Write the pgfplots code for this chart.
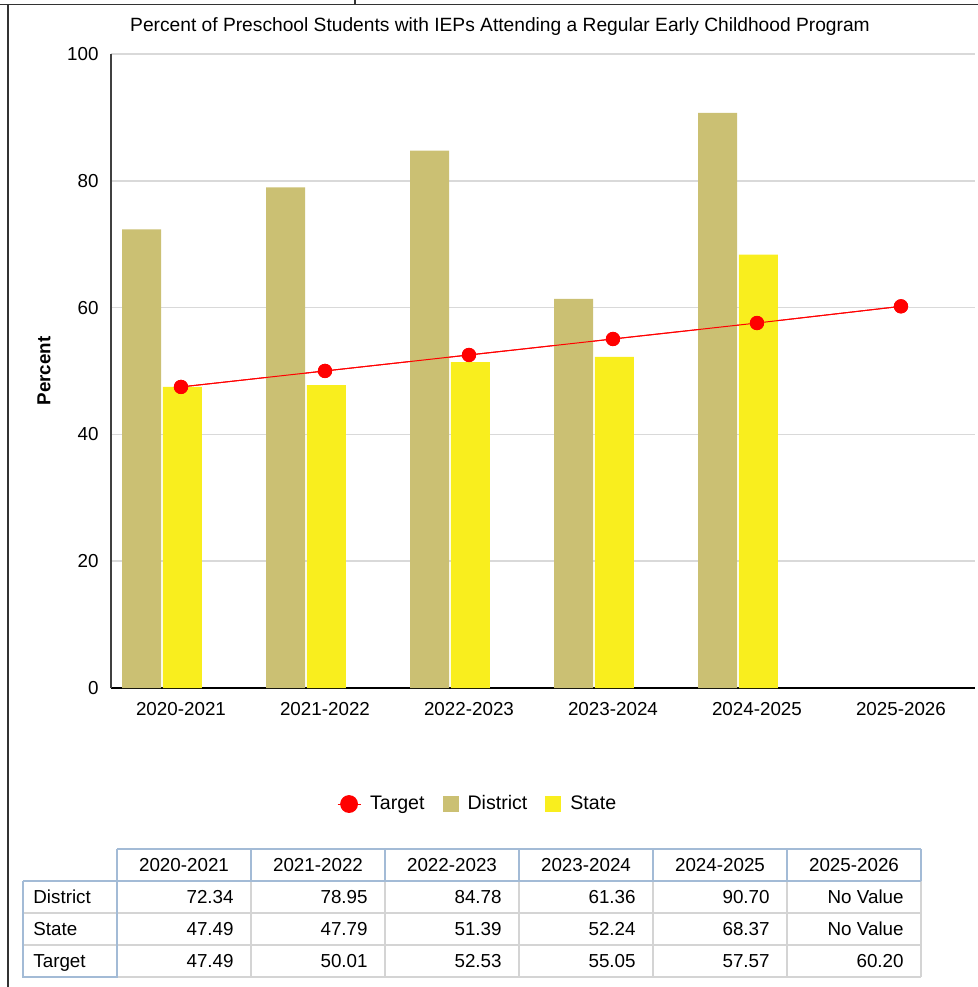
\documentclass[border=0pt]{standalone}
\usepackage{fontspec}
\setmainfont{Liberation Sans}
\usepackage{pgfplots}
\pgfplotsset{compat=1.18}

\definecolor{district}{HTML}{CBC073}
\definecolor{state}{HTML}{F9EE1E}
\definecolor{gridgray}{HTML}{D9D9D9}
\definecolor{tblue}{HTML}{A3BBD6}
\definecolor{tgray}{HTML}{D4D4D4}

\pgfplotstableread{
x district state
0 72.34 47.49
1 78.95 47.79
2 84.78 51.39
3 61.36 52.24
4 90.70 68.37
}\bars

\pgfplotstableread{
x target
0 47.49
1 50.01
2 52.53
3 55.05
4 57.57
5 60.20
}\target

\newcommand{\chartfont}{\fontsize{9.4}{11.3}\selectfont}

\begin{document}
\begin{tikzpicture}[x=0.5pt, y=-0.5pt, font=\chartfont]
\path[use as bounding box] (0,0) rectangle (978,987);

% page frame left over from the report
\draw[line width=0.6pt, black!80] (0,4.5) -- (978,4.5);
\draw[line width=0.6pt, black!80] (8,4.5) -- (8,987);
\draw[line width=0.6pt, black!80] (355,0) -- (355,4.5);

\node[font=\fontsize{9.6}{11.5}\selectfont] at (500,26.5) {Percent of Preschool Students with IEPs Attending a Regular Early Childhood Program};
\node[rotate=90, font=\chartfont\bfseries] at (44,371) {Percent};

\begin{axis}[
    at={(55.5pt,-344pt)}, anchor=south west,
    scale only axis,
    width=432pt, height=317pt,
    xmin=-0.486, xmax=5.514,
    ymin=0, ymax=100,
    ytick={0,20,...,100},
    xtick={0,...,5},
    xticklabels={2020-2021,2021-2022,2022-2023,2023-2024,2024-2025,2025-2026},
    axis x line=bottom, axis y line=left,
    x axis line style={-, black, line width=0.6pt},
    y axis line style={-, black!75, line width=0.6pt},
    major tick length=0pt,
    ymajorgrids,
    major grid style={gridgray, line width=0.8pt},
    tick label style={font=\chartfont},
    /pgf/number format/assume math mode=true,
    yticklabel style={anchor=east, inner sep=0pt, xshift=-6pt},
    xticklabel style={anchor=north, inner sep=0pt, yshift=-7pt},
    legend columns=3,
    legend style={
        at={(axis description cs:0.4255,-0.183)}, anchor=center,
        draw=none, fill=none, font=\fontsize{9.8}{11.5}\selectfont,
        /tikz/every odd column/.append style={column sep=2.5pt},
        /tikz/every even column/.append style={column sep=7pt},
    },
    clip=false,
]
\addplot[red, line width=0.5pt, mark=*, mark size=3.3pt,
    mark options={fill=red, draw=red},
    legend image code/.code={
        \draw[red, line width=0.5pt] (0pt,0pt) -- (11.5pt,0pt);
        \fill[red] (5.75pt,0pt) circle (4.2pt);
    }] table[x=x, y=target] {\target};
\addlegendentry{Target}

\addplot[ybar, bar width=0.271, bar shift=-0.274, fill=district, draw=none,
    legend image code/.code={\fill[district] (0pt,-4pt) rectangle (8pt,4pt);}]
    table[x=x, y=district] {\bars};
\addlegendentry{District}

\addplot[ybar, bar width=0.271, bar shift=0.01, fill=state, draw=none,
    legend image code/.code={\fill[state] (0pt,-4pt) rectangle (8pt,4pt);}]
    table[x=x, y=state] {\bars};
\addlegendentry{State}

% redraw target on top of the bars
\addplot[red, line width=0.5pt, mark=*, mark size=3.3pt,
    mark options={fill=red, draw=red}, forget plot] table[x=x, y=target] {\target};
\end{axis}

% data table under the chart
\draw[tgray, line width=0.8pt] (23,913) -- (921,913);
\draw[tgray, line width=0.8pt] (23,945) -- (921,945);
\draw[tgray, line width=0.8pt] (117,977) -- (921,977);
\foreach \xx in {251,385,519,653,787,921}
    \draw[tgray, line width=0.8pt] (\xx,881) -- (\xx,977);
\draw[tblue, line width=0.8pt] (117,849) -- (921,849);
\draw[tblue, line width=0.8pt] (23,881) -- (921,881);
\foreach \xx in {117,251,385,519,653,787,921}
    \draw[tblue, line width=0.8pt] (\xx,849) -- (\xx,881);
\draw[tblue, line width=0.8pt] (23,881) -- (23,977) -- (117,977) -- (117,881);

\foreach \lab [count=\i from 0] in {2020-2021,2021-2022,2022-2023,2023-2024,2024-2025,2025-2026}
    \node[anchor=base, inner sep=0pt] at ({184+134*\i},871.5) {\lab};

\foreach \lab/\yy in {District/903.5,State/935.5,Target/967.5}
    \node[anchor=base west, inner sep=0pt] at (33,\yy) {\lab};

\foreach \v [count=\i from 0] in {72.34,78.95,84.78,61.36,90.70,No Value}
    \node[anchor=base east, inner sep=0pt] at ({234+134*\i},903.5) {\v};
\foreach \v [count=\i from 0] in {47.49,47.79,51.39,52.24,68.37,No Value}
    \node[anchor=base east, inner sep=0pt] at ({234+134*\i},935.5) {\v};
\foreach \v [count=\i from 0] in {47.49,50.01,52.53,55.05,57.57,60.20}
    \node[anchor=base east, inner sep=0pt] at ({234+134*\i},967.5) {\v};
\end{tikzpicture}
\end{document}
